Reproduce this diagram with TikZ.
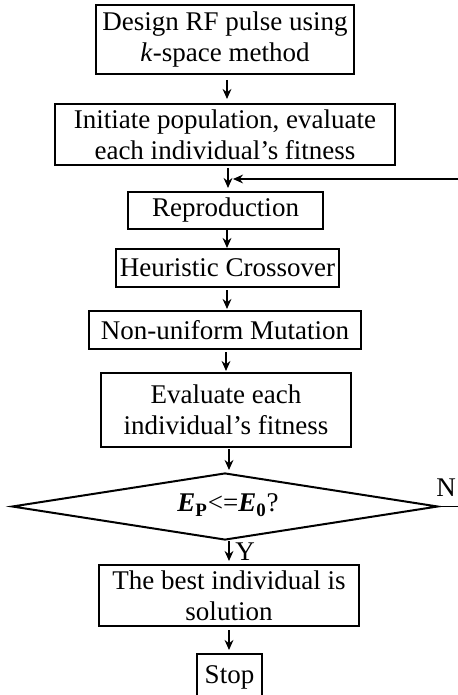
\documentclass[tikz,border=0pt]{standalone}
\usepackage{fontspec}
\setmainfont{Liberation Serif}
\usetikzlibrary{shapes.geometric,arrows.meta}
\begin{document}
\begin{tikzpicture}[x=0.5pt,y=-0.5pt,
  font=\fontsize{13.5pt}{15.5pt}\selectfont,
  box/.style={draw,line width=1pt,inner sep=0pt,align=center},
  arr/.style={line width=0.85pt,-{Stealth[length=5pt,width=4.4pt]}},
  lbl/.style={inner sep=0pt}]
\useasboundingbox (0,0) rectangle (457,695);
\node[box,minimum width=129pt,minimum height=34.5pt] (b1) at (225,39.5) {Design RF pulse using\\\textit{k}-space method};
\node[box,minimum width=170pt,minimum height=30.5pt] (b2) at (225,135) {Initiate population, evaluate\\each individual’s fitness};
\node[box,minimum width=97.5pt,minimum height=18.5pt] (b3) at (225.5,210.5) {Reproduction};
\node[box,minimum width=111.5pt,minimum height=19pt] (b4) at (227.5,268) {Heuristic Crossover};
\node[box,minimum width=136pt,minimum height=19pt] (b5) at (225,330) {Non-uniform Mutation};
\node[box,minimum width=125pt,minimum height=37pt] (b6) at (226,410) {Evaluate each\\individual’s fitness};
\node[draw,line width=1pt,diamond,shape aspect=6.36,inner sep=0pt,minimum width=213pt,minimum height=33.5pt] (d) at (225,506.5) {};
\node[lbl] (dt) at (228,505) {\textbf{\textit{E}}\textsubscript{\textbf{P}}<=\textbf{\textit{E}}\textsubscript{\textbf{0}}?};
\node[box,minimum width=130pt,minimum height=30.5pt] (b7) at (229,595.5) {The best individual is\\solution};
\node[box,minimum width=32.5pt,minimum height=23pt] (b8) at (229.5,677) {Stop};
\node[lbl] (N) at (446,488) {N};
\node[lbl] (Y) at (245,552) {Y};
\coordinate (m1) at (227,80);
\draw[arr] (m1) -- (227,99);
\coordinate (m2) at (228,168);
\coordinate (fb) at (233,179);
\draw[arr] (m2) -- (228,188);
\coordinate (far) at (462,179);
\draw[arr] (d.east) -- (462,506.5) -- (far) -- (fb);
\draw[arr] (227,230) -- (227,248);
\draw[arr] (227,290) -- (227,309);
\draw[arr] (226,352) -- (226,371);
\draw[arr] (229,449) -- (229,470);
\draw[arr] (229,541) -- (229,561);
\draw[arr] (229,630) -- (229,650);
\end{tikzpicture}
\end{document}
